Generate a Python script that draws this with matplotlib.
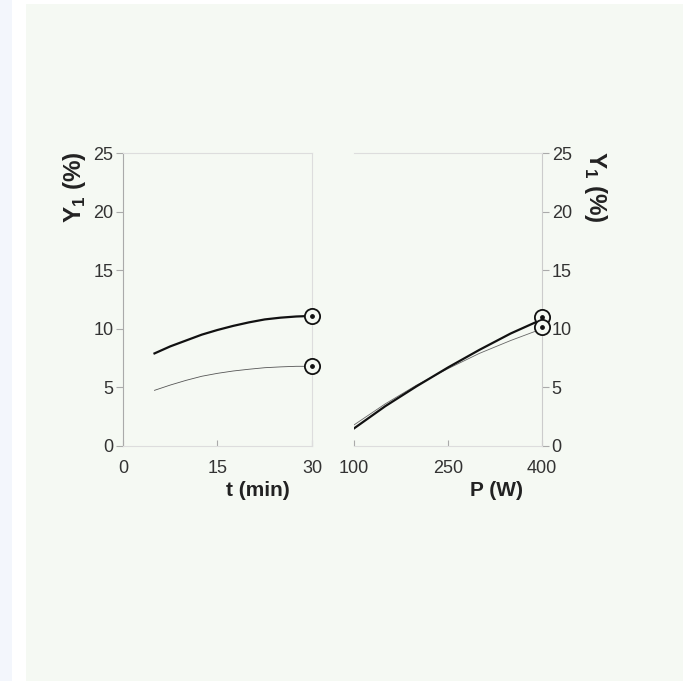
import matplotlib
matplotlib.use("Agg")
import matplotlib.pyplot as plt
import matplotlib.patches as mpatches
import numpy as np

plt.rcParams['font.family'] = ['Liberation Sans', 'DejaVu Sans']
plt.rcParams['mathtext.fontset'] = 'custom'
plt.rcParams['mathtext.bf'] = 'Liberation Sans:bold'
plt.rcParams['mathtext.rm'] = 'Liberation Sans:bold'

# Data
t_vals = [5, 7.5, 10, 12.5, 15, 17.5, 20, 22.5, 25, 27.5, 30]
y_t_thick = [7.9, 8.5, 9.0, 9.5, 9.9, 10.25, 10.55, 10.8, 10.95, 11.05, 11.1]
y_t_thin = [4.75, 5.2, 5.6, 5.95, 6.2, 6.4, 6.55, 6.68, 6.75, 6.8, 6.8]
t_marks = [30, 30]
y_t_marks = [11.1, 6.8]

p_vals = [100, 150, 200, 250, 300, 350, 400]
y_p_thick = [1.5, 3.4, 5.1, 6.7, 8.2, 9.6, 10.8]
y_p_thin = [1.8, 3.6, 5.2, 6.6, 7.9, 9.0, 10.0]
p_marks = [400, 400]
y_p_marks = [11.0, 10.15]

y_ticks = [0, 5, 10, 15, 20, 25]
t_ticks = [0, 15, 30]
p_ticks = [100, 250, 400]

W, H = 690, 681
fig = plt.figure(figsize=(W / 100, H / 100), dpi=100)
fig.patch.set_facecolor('white')

# background panels
fig.patches.append(mpatches.Rectangle((0, 0), 12 / W, 1, transform=fig.transFigure,
                                      facecolor='#f3f6fc', edgecolor='none', zorder=-10))
fig.patches.append(mpatches.Rectangle((26 / W, 0), (683 - 26) / W, 1 - 4 / H,
                                      transform=fig.transFigure,
                                      facecolor='#f5f9f3', edgecolor='none', zorder=-10))

bot = 1 - 446 / H
hgt = (446 - 153) / H
ax1 = fig.add_axes([123 / W, bot, (312 - 123) / W, hgt])
ax2 = fig.add_axes([354 / W, bot, (542 - 354) / W, hgt])

tick_color = '#333333'
for ax in (ax1, ax2):
    ax.set_facecolor('none')
    ax.set_ylim(0, 25)
    ax.set_yticks(y_ticks)
    for s in ax.spines.values():
        s.set_color('#dddddd')
        s.set_linewidth(0.8)
    ax.tick_params(labelsize=13, colors=tick_color, length=5, width=0.8)
    ax.tick_params(axis='both', color='#aaaaaa')

ax1.set_xlim(0, 30)
ax1.set_xticks(t_ticks)
ax1.spines['left'].set_color('#aaaaaa')
ax1.tick_params(axis='y', pad=2)
ax1.tick_params(axis='x', direction='in', length=4, pad=10)

ax2.set_xlim(100, 400)
ax2.set_xticks(p_ticks)
ax2.spines['left'].set_visible(False)
ax2.spines['right'].set_color('#cccccc')
ax2.yaxis.tick_right()
ax2.tick_params(axis='y', pad=2)
ax2.tick_params(axis='x', direction='in', length=4, pad=10)

ax1.plot(t_vals, y_t_thick, color='#111111', lw=1.6, zorder=3)
ax1.plot(t_vals, y_t_thin, color='#555555', lw=0.6, zorder=3)
ax1.scatter(t_marks, y_t_marks, s=120, facecolor='#f5f9f3', edgecolor='#111111',
            linewidth=1.3, zorder=4, clip_on=False)
ax1.scatter(t_marks, y_t_marks, s=6, color='#111111', zorder=5, clip_on=False)

ax2.plot(p_vals, y_p_thin, color='#666666', lw=0.6, zorder=3)
ax2.plot(p_vals, y_p_thick, color='#111111', lw=1.6, zorder=3)
ax2.scatter(p_marks, y_p_marks, s=120, facecolor='#f5f9f3', edgecolor='#111111',
            linewidth=1.3, zorder=4, clip_on=False)
ax2.scatter(p_marks, y_p_marks, s=6, color='#111111', zorder=5, clip_on=False)

lab_kw = dict(fontweight='bold', color='#222222', ha='center', va='center')
ylab = r"Y$_{\mathbf{1}}$ (%)"
fig.text(75 / W, 1 - 187 / H, ylab, rotation=90, fontsize=17.5, **lab_kw)
fig.text(595 / W, 1 - 187 / H, ylab, rotation=-90, fontsize=17.5, **lab_kw)
fig.text(258 / W, 1 - 490 / H, "t (min)", fontsize=15, **lab_kw)
fig.text(497 / W, 1 - 490 / H, "P (W)", fontsize=15, **lab_kw)

fig.savefig("out.png", dpi=100, facecolor=fig.get_facecolor())
